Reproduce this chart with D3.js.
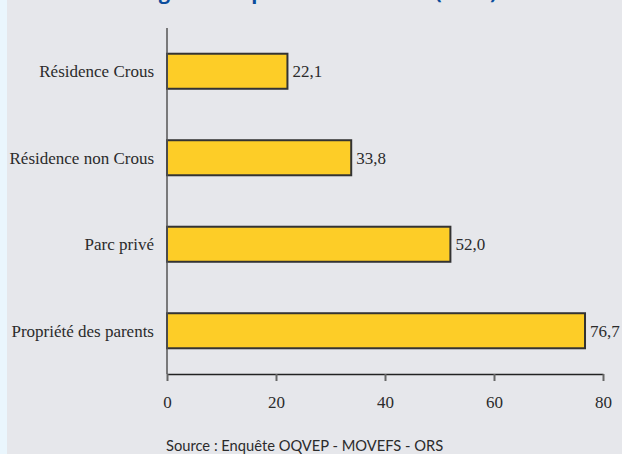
<!DOCTYPE html>
<html>
<head>
<meta charset="utf-8">
<script src="https://cdn.jsdelivr.net/npm/d3@7"></script>
<style>
  html, body { margin: 0; padding: 0; background: #e6e7eb; }
  svg { display: block; }
</style>
</head>
<body>
<script>
// Housing categories, top to bottom, and their shares (%)
const categories = ["Résidence Crous", "Résidence non Crous", "Parc privé", "Propriété des parents"];
const values = [22.1, 33.8, 52.0, 76.7];
const valueLabels = ["22,1", "33,8", "52,0", "76,7"];
const xTicks = [0, 20, 40, 60, 80];
const titleText = "Logement : part des satisfaits (en %)";
const sourceText = "Source : Enquête OQVEP - MOVEFS - ORS";

const W = 622, H = 454;
const svg = d3.select("body").append("svg").attr("width", W).attr("height", H);

// page background with the pale strip on the left edge
svg.append("rect").attr("width", W).attr("height", H).attr("fill", "#e6e7eb");
svg.append("rect").attr("width", 7).attr("height", H).attr("fill", "#eaf6fd");

const plot = { left: 167, right: 603, top: 28, bottom: 374 };

const x = d3.scaleLinear().domain([0, 80]).range([plot.left, plot.right]);
const y = d3.scaleBand().domain(categories).range([plot.top, plot.bottom])
  .paddingInner(0.595).paddingOuter(0.2975);

const serif = "'Liberation Serif', 'Times New Roman', serif";

// title (sits partly above the visible area)
svg.append("text")
  .attr("x", 316).attr("y", -1)
  .attr("text-anchor", "middle")
  .attr("font-family", "'Open Sans', sans-serif")
  .attr("font-weight", "bold")
  .attr("font-size", 20)
  .attr("fill", "#0b4c9c")
  .text(titleText);

// bars
svg.append("g").selectAll("rect")
  .data(values)
  .join("rect")
  .attr("x", x(0))
  .attr("y", (d, i) => y(categories[i]))
  .attr("width", d => x(d) - x(0))
  .attr("height", y.bandwidth())
  .attr("fill", "#fdcd27")
  .attr("stroke", "#333")
  .attr("stroke-width", 2);

// value labels
svg.append("g").selectAll("text")
  .data(values)
  .join("text")
  .attr("x", d => x(d) + 5)
  .attr("y", (d, i) => y(categories[i]) + y.bandwidth() / 2)
  .attr("dy", "0.36em")
  .attr("font-family", serif)
  .attr("font-size", 17)
  .attr("fill", "#2b2b2b")
  .text((d, i) => valueLabels[i]);

// category labels
svg.append("g").selectAll("text")
  .data(categories)
  .join("text")
  .attr("x", 154)
  .attr("y", d => y(d) + y.bandwidth() / 2)
  .attr("dy", "0.36em")
  .attr("text-anchor", "end")
  .attr("font-family", serif)
  .attr("font-size", 17)
  .attr("fill", "#2b2b2b")
  .text(d => d);

// vertical axis line
svg.append("line")
  .attr("x1", plot.left).attr("x2", plot.left)
  .attr("y1", plot.top).attr("y2", plot.bottom)
  .attr("stroke", "#555").attr("stroke-width", 1.5);

// horizontal axis
const xAxis = svg.append("g")
  .attr("transform", `translate(0,${plot.bottom})`)
  .call(d3.axisBottom(x).tickValues(xTicks).tickSize(7).tickPadding(15).tickSizeOuter(0));
xAxis.select(".domain").attr("stroke", "#222").attr("stroke-width", 1.5);
xAxis.selectAll(".tick line").attr("stroke", "#666").attr("stroke-width", 2);
xAxis.selectAll(".tick text")
  .attr("font-family", serif)
  .attr("font-size", 17)
  .attr("fill", "#2b2b2b");

// source line
svg.append("text")
  .attr("x", 166).attr("y", 451)
  .attr("font-family", "Lato, 'Open Sans', sans-serif")
  .attr("font-size", 14.7)
  .attr("fill", "#2b2b2b")
  .text(sourceText);
</script>
</body>
</html>
